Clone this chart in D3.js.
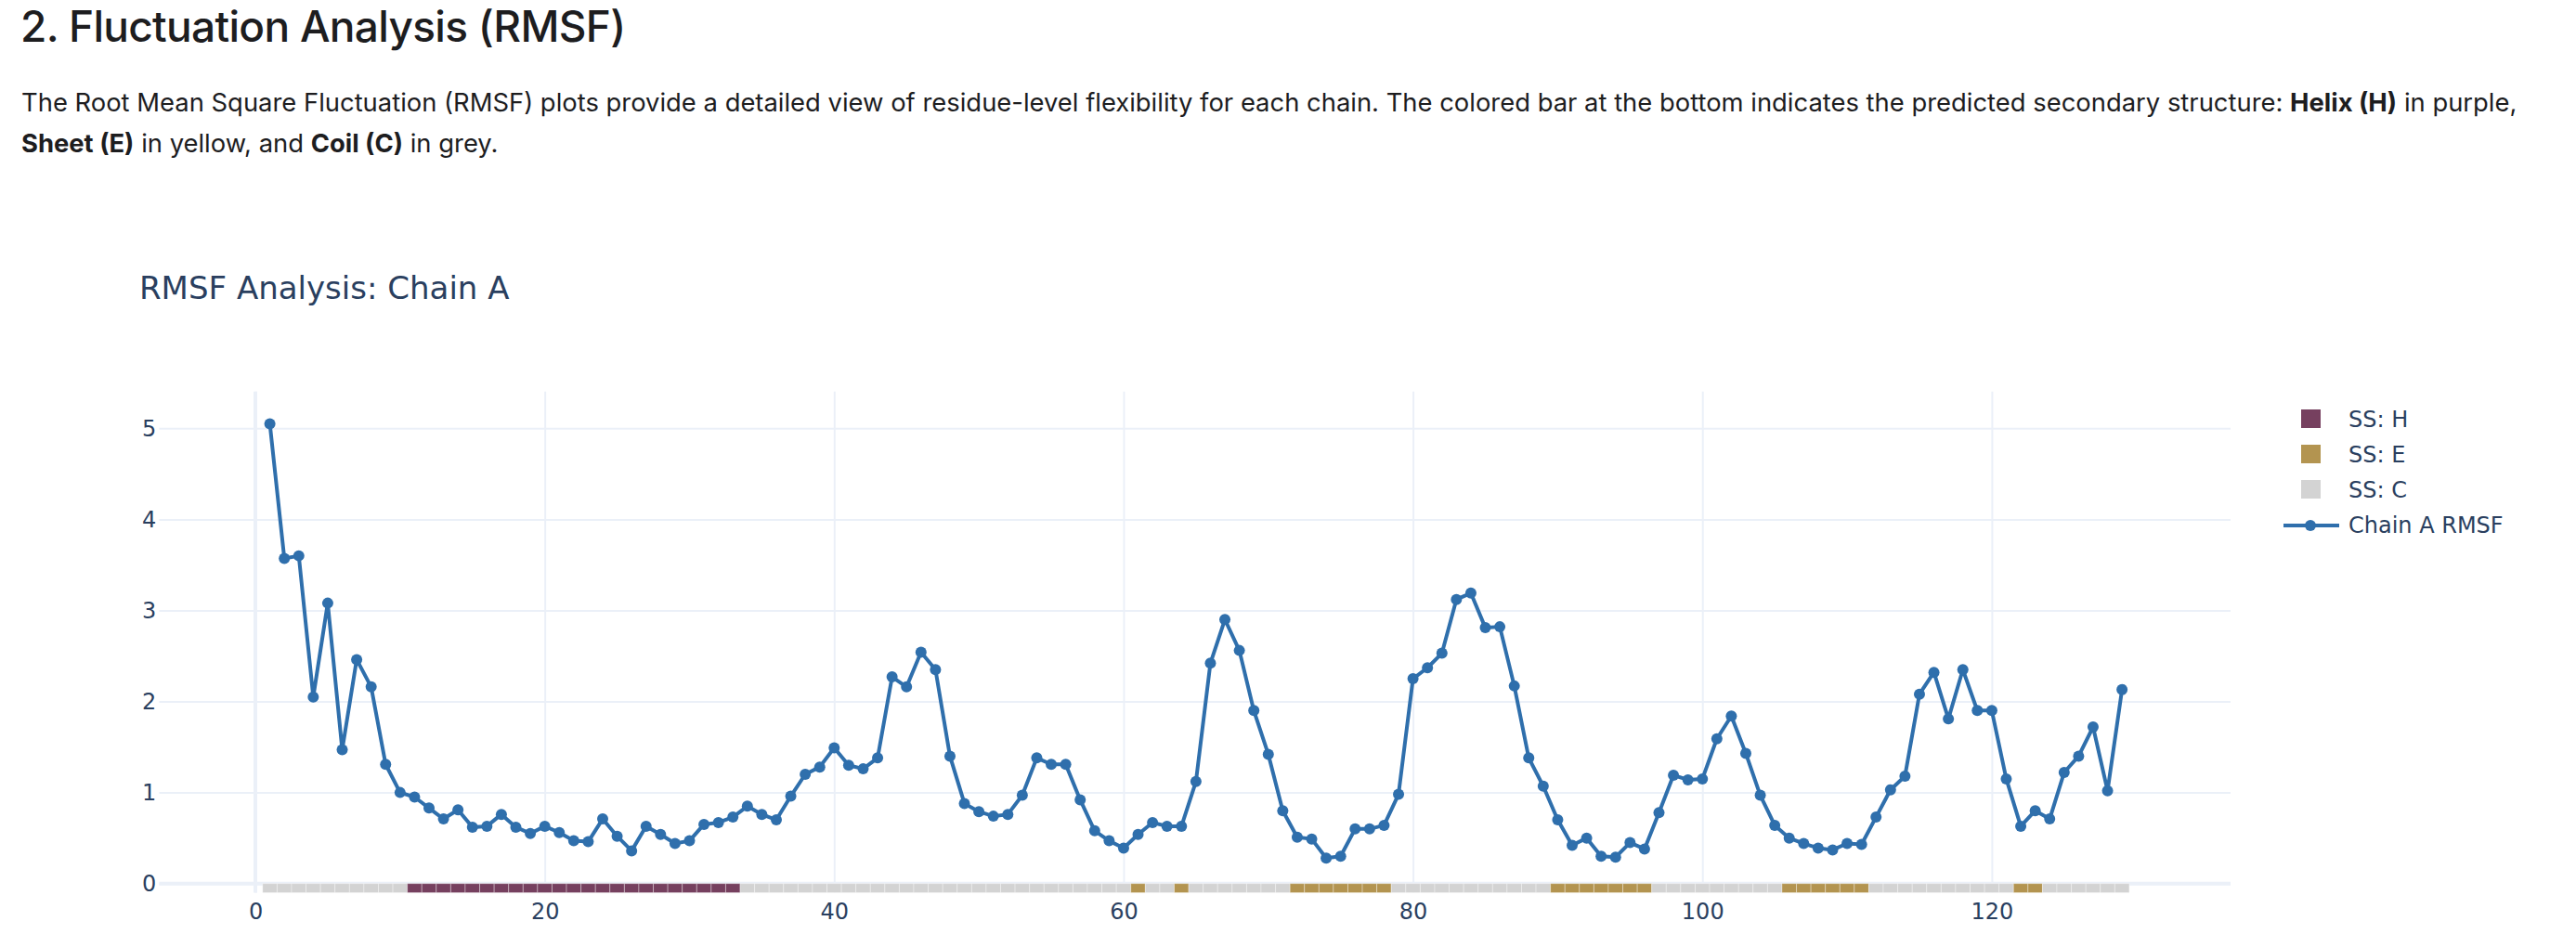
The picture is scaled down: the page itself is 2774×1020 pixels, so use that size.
<!DOCTYPE html>
<html>
<head>
<meta charset="utf-8">
<script src="https://cdn.jsdelivr.net/npm/d3@7"></script>
<style>
  body { margin: 0; background: #fff; }
  svg { display: block; }
</style>
</head>
<body>
<svg id="chart"></svg>
<script>
// residue numbers and rmsf per residue
let residues = d3.range(1, 130);
let rmsf = [
  5.05, 3.57, 3.60, 2.05, 3.08, 1.47, 2.46, 2.16, 1.31, 1.00,
  0.95, 0.83, 0.71, 0.81, 0.62, 0.63, 0.76, 0.62, 0.55, 0.63,
  0.56, 0.47, 0.46, 0.71, 0.52, 0.36, 0.63, 0.54, 0.44, 0.47,
  0.65, 0.67, 0.73, 0.85, 0.76, 0.70, 0.96, 1.20, 1.28, 1.49,
  1.30, 1.26, 1.38, 2.27, 2.16, 2.54, 2.35, 1.40, 0.88, 0.79,
  0.74, 0.76, 0.97, 1.38, 1.31, 1.31, 0.92, 0.58, 0.47, 0.39,
  0.54, 0.67, 0.63, 0.63, 1.12, 2.42, 2.90, 2.56, 1.90, 1.42,
  0.80, 0.51, 0.49, 0.28, 0.30, 0.60, 0.60, 0.64, 0.98, 2.25,
  2.37, 2.53, 3.12, 3.19, 2.81, 2.82, 2.17, 1.38, 1.07, 0.70,
  0.42, 0.50, 0.30, 0.29, 0.45, 0.38, 0.78, 1.19, 1.14, 1.15,
  1.59, 1.84, 1.43, 0.97, 0.64, 0.50, 0.44, 0.39, 0.37, 0.44,
  0.43, 0.73, 1.03, 1.18, 2.08, 2.32, 1.81, 2.35, 1.90, 1.90,
  1.15, 0.63, 0.80, 0.71, 1.22, 1.40, 1.72, 1.02, 2.13
];
// secondary structure per residue (H helix, E sheet, C coil)
let ss =
  "CCCCCCCCCC" + "HHHHHHHHHH" + "HHHHHHHHHH" + "HHHCCCCCCC" +
  "CCCCCCCCCC" + "CCCCCCCCCC" + "ECCECCCCCC" + "CEEEEEEECC" +
  "CCCCCCCCCE" + "EEEEEECCCC" + "CCCCCEEEEE" + "ECCCCCCCCC" +
  "CEECCCCCC";
let ssTypes = ["H", "E", "C"];
let ssColors = ["#76405f", "#b39450", "#d3d3d3"];
let xTicks = [0, 20, 40, 60, 80, 100, 120];
let yTicks = [0, 1, 2, 3, 4, 5];

var W = 2774, H = 1020;
var plotL = 171.4, plotR = 2402, plotT = 421.7, plotB = 961.5;
var ink = "#2a3f5f", grid = "#ebf0f8", lineColor = "#2f6fac";
var plotFont = "'DejaVu Sans', Verdana, sans-serif";

var svg = d3.select("#chart").attr("width", W).attr("height", H);

// page heading and intro text
svg.append("text")
  .attr("x", 22).attr("y", 44.5)
  .attr("font-family", "Inter, sans-serif").attr("font-size", 46).attr("font-weight", 500)
  .attr("letter-spacing", -0.7)
  .attr("fill", "#1d1d1f")
  .text("2. Fluctuation Analysis (RMSF)");

var para = [
  [["The Root Mean Square Fluctuation (RMSF) plots provide a detailed view of residue-level flexibility for each chain. The colored bar at the bottom indicates the predicted secondary structure: ", 400], ["Helix (H)", 700], [" in purple,", 400]],
  [["Sheet (E)", 700], [" in yellow, and ", 400], ["Coil (C)", 700], [" in grey.", 400]]
];
para.forEach(function (line, i) {
  var t = svg.append("text")
    .attr("x", 23).attr("y", 119.5 + i * 44.7)
    .attr("font-family", "Inter, sans-serif").attr("font-size", 27.4)
    .attr("fill", "#1d1d1f")
    .attr("xml:space", "preserve");
  line.forEach(function (p) {
    t.append("tspan").attr("font-weight", p[1]).text(p[0]);
  });
});

var x = d3.scaleLinear().domain([-6.65, 136.5]).range([plotL, plotR]);
var y = d3.scaleLinear().domain([-0.1, 5.404]).range([plotB, plotT]);

// grid via axes
var gx = svg.append("g")
  .attr("transform", "translate(0," + plotB + ")")
  .call(d3.axisBottom(x).tickValues(xTicks).tickFormat(d3.format("d"))
    .tickSize(-(plotB - plotT)).tickPadding(11));
var gy = svg.append("g")
  .attr("transform", "translate(" + plotL + ",0)")
  .call(d3.axisLeft(y).tickValues(yTicks).tickFormat(d3.format("d"))
    .tickSize(-(plotR - plotL)).tickPadding(3));

[gx, gy].forEach(function (g) {
  g.select(".domain").remove();
  g.selectAll("line").attr("stroke", grid).attr("stroke-width", 2);
  g.selectAll("text").attr("fill", ink).attr("font-size", 24).attr("font-family", plotFont);
});

// zero lines
svg.append("line")
  .attr("x1", x(0)).attr("x2", x(0)).attr("y1", plotT).attr("y2", plotB)
  .attr("stroke", grid).attr("stroke-width", 4);
svg.append("line")
  .attr("x1", plotL).attr("x2", plotR).attr("y1", y(0)).attr("y2", y(0))
  .attr("stroke", grid).attr("stroke-width", 4);

// secondary structure strip
svg.append("g").selectAll("rect")
  .data(residues)
  .enter()
  .append("rect")
  .attr("x", function (d) { return x(d - 0.5); })
  .attr("width", function (d) { return x(d + 0.5) - x(d - 0.5); })
  .attr("y", y(0))
  .attr("height", y(-0.1) - y(0))
  .attr("fill", function (d, i) { return ssColors[ssTypes.indexOf(ss[i])]; })
  .attr("stroke", "#fff").attr("stroke-width", 1).attr("stroke-opacity", 0.35);

// rmsf line + markers
var line = d3.line()
  .x(function (d, i) { return x(residues[i]); })
  .y(function (d) { return y(d); });

svg.append("path")
  .datum(rmsf)
  .attr("d", line)
  .attr("fill", "none")
  .attr("stroke", lineColor)
  .attr("stroke-width", 4)
  .attr("stroke-linejoin", "round");

svg.append("g").selectAll("circle")
  .data(rmsf)
  .enter()
  .append("circle")
  .attr("cx", function (d, i) { return x(residues[i]); })
  .attr("cy", function (d) { return y(d); })
  .attr("r", 6)
  .attr("fill", lineColor);

// chart title
svg.append("text")
  .attr("x", 150).attr("y", 322)
  .attr("font-family", plotFont).attr("font-size", 34)
  .attr("fill", ink)
  .text("RMSF Analysis: Chain A");

// legend
var legendNames = ["SS: H", "SS: E", "SS: C", "Chain A RMSF"];
var leg = svg.append("g");
legendNames.forEach(function (name, i) {
  var cy = 451 + i * 38;
  if (i < 3) {
    leg.append("rect")
      .attr("x", 2478).attr("y", cy - 10).attr("width", 21).attr("height", 20)
      .attr("fill", ssColors[i]);
  } else {
    leg.append("line")
      .attr("x1", 2459).attr("x2", 2519).attr("y1", cy + 1).attr("y2", cy + 1)
      .attr("stroke", lineColor).attr("stroke-width", 4);
    leg.append("circle")
      .attr("cx", 2488).attr("cy", cy + 1).attr("r", 6).attr("fill", lineColor);
  }
  leg.append("text")
    .attr("x", 2529).attr("y", cy + 9)
    .attr("font-family", plotFont).attr("font-size", 24)
    .attr("fill", ink)
    .text(name);
});
</script>
</body>
</html>
